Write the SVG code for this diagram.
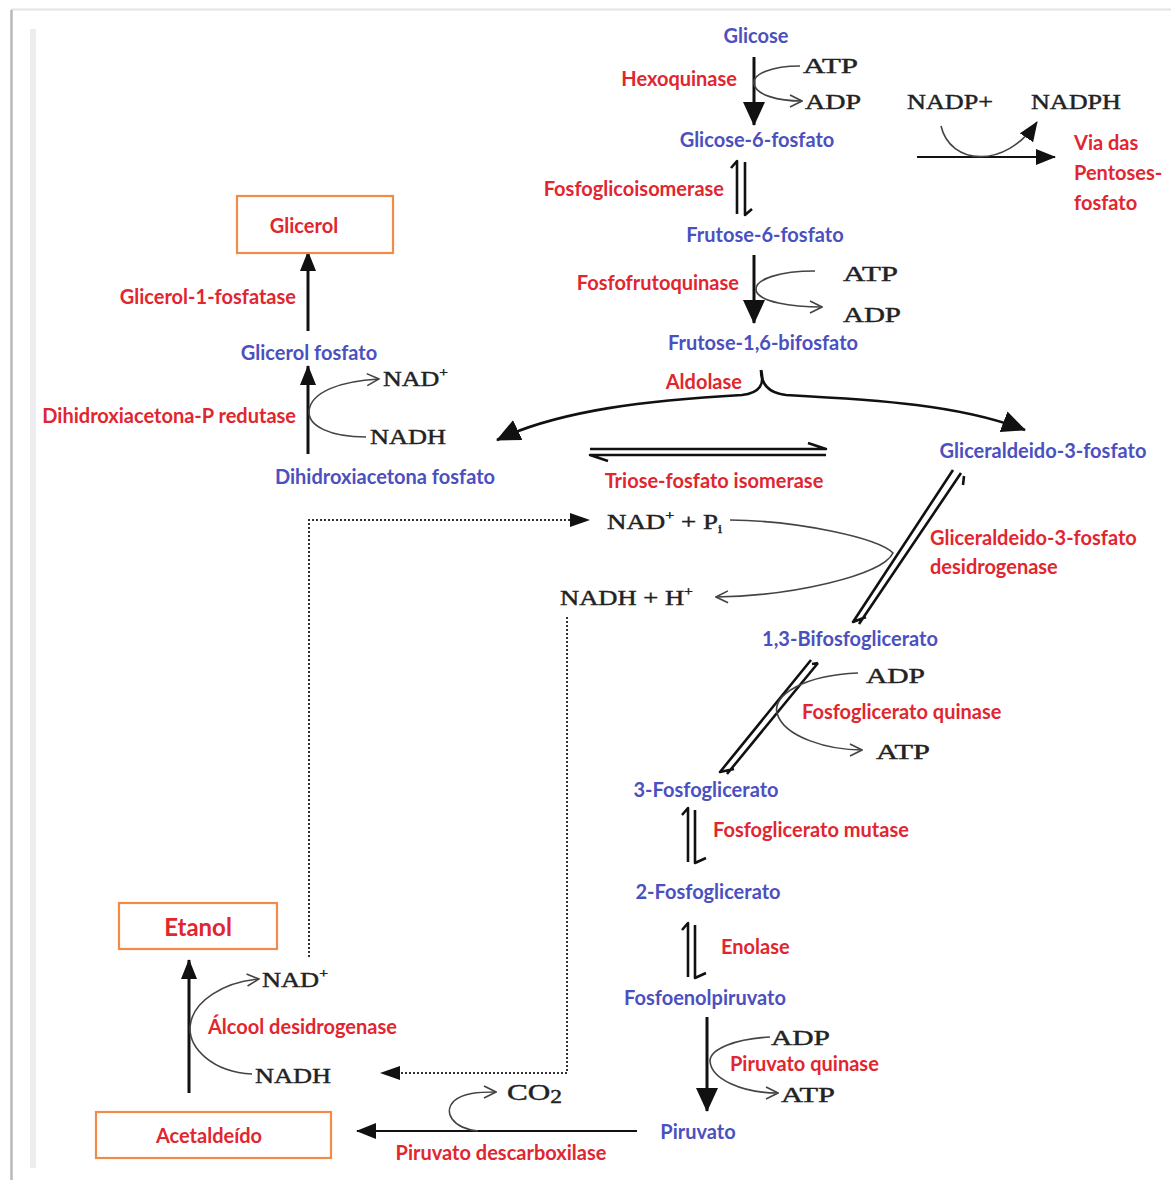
<svg xmlns="http://www.w3.org/2000/svg" width="1171" height="1180" viewBox="0 0 1171 1180">
<defs>
<style>
.m{font-family:Lato,"Open Sans","Liberation Sans",sans-serif;font-weight:bold;font-size:20px;fill:#4b50c0}
.e{font-family:Lato,"Open Sans","Liberation Sans",sans-serif;font-weight:bold;font-size:20px;fill:#e1262f}
.c{font-family:"Liberation Serif","Times New Roman",serif;font-size:22px;fill:#222;stroke:#222;stroke-width:0.45}
.ln{fill:none;stroke:#111;stroke-width:3}
.thin{fill:none;stroke:#444;stroke-width:1.6}
.eq{fill:none;stroke:#111;stroke-width:2.6;stroke-linejoin:round}
.dot{fill:none;stroke:#333;stroke-width:2;stroke-dasharray:2 2}
.box{fill:#fff;stroke:#f08c48;stroke-width:2.2}
</style>
<marker id="big" markerUnits="userSpaceOnUse" viewBox="0 0 24 22" refX="23" refY="11" markerWidth="24" markerHeight="22" orient="auto"><path d="M0,0 L24,11 L0,22 z" fill="#111"/></marker>
<marker id="med" markerUnits="userSpaceOnUse" viewBox="0 0 20 16" refX="19" refY="8" markerWidth="20" markerHeight="16" orient="auto"><path d="M0,0 L20,8 L0,16 z" fill="#111"/></marker>
<marker id="open" markerUnits="userSpaceOnUse" viewBox="0 0 14 14" refX="13" refY="7" markerWidth="14" markerHeight="14" orient="auto"><path d="M1,1 L13,7 L1,13" fill="none" stroke="#444" stroke-width="1.6"/></marker>
</defs>
<rect width="1171" height="1180" fill="#fff"/>
<g id="frame">
<line x1="11" y1="9.5" x2="1171" y2="9.5" stroke="#e4e4e4" stroke-width="2"/>
<line x1="11.5" y1="10" x2="11.5" y2="1180" stroke="#b8b8b8" stroke-width="2.5"/>
<rect x="30" y="29" width="6" height="1139" fill="#ededed"/>
</g>
<g id="connectors">
<line class="ln" x1="754" y1="57" x2="754" y2="125" marker-end="url(#big)"/>
<path class="thin" d="M800,66 C772,66 752,74 754,84 C756,95 778,101 802,101" marker-end="url(#open)"/>
<path class="eq" d="M737,214 L737,161 L731,168 M745,162 L745,215 L752,209"/>
<line x1="917" y1="157" x2="1055" y2="157" stroke="#111" stroke-width="2" marker-end="url(#med)"/>
<path d="M941,126 C950,165 1005,170 1037,122" fill="none" stroke="#444" stroke-width="1.6" marker-end="url(#med)"/>
<line class="ln" x1="754" y1="255" x2="754" y2="323" marker-end="url(#big)"/>
<path class="thin" d="M815,271 C780,271 755,279 756,290 C758,302 792,307 822,307" marker-end="url(#open)"/>
<path d="M761,370 C765,384 760,393 742,395 C650,400 560,410 497,440" fill="none" stroke="#111" stroke-width="2.6" marker-end="url(#big)"/>
<path d="M761,370 C761,384 768,393 786,395 C880,400 960,405 1025,430" fill="none" stroke="#111" stroke-width="2.6" marker-end="url(#big)"/>
<path class="eq" d="M590,449 L826,449 L808,443 M826,455 L590,455 L608,461"/>
<line class="ln" x1="308" y1="331" x2="308" y2="252" marker-end="url(#med)"/>
<line class="ln" x1="308" y1="454" x2="308" y2="366" marker-end="url(#med)"/>
<path class="thin" d="M366,437 C330,437 308,426 309,411 C311,392 340,381 379,379" marker-end="url(#open)"/>
<path class="eq" d="M961,473 L859,624 M964,476 L963,485 M953,470 L853,622 L866,617"/>
<path class="thin" d="M730,520 C800,521 878,538 893,553 C882,576 790,596 716,597" marker-end="url(#open)"/>
<path class="eq" d="M818,663 L727,774 M818,663 L812,664 M811,660 L720,772 L734,769"/>
<path class="thin" d="M858,673 C805,675 772,695 777,713 C784,738 830,750 862,750" marker-end="url(#open)"/>
<path class="eq" d="M688,862 L688,808 L682,815 M695,810 L695,863 L706,858"/>
<path class="eq" d="M688,977 L688,923 L682,930 M695,925 L695,978 L706,973"/>
<line class="ln" x1="707" y1="1017" x2="707" y2="1111" marker-end="url(#big)"/>
<path class="thin" d="M770,1037 C735,1039 710,1049 710,1061 C711,1079 742,1093 778,1093" marker-end="url(#open)"/>
<line x1="637" y1="1131" x2="357" y2="1131" stroke="#111" stroke-width="2.2" marker-end="url(#med)"/>
<path class="thin" d="M478,1131 C452,1128 443,1112 454,1101 C463,1093 478,1092 496,1092" marker-end="url(#open)"/>
<line class="ln" x1="189" y1="1093" x2="189" y2="960" marker-end="url(#med)"/>
<path class="thin" d="M252,1074 C212,1072 189,1048 190,1027 C192,1001 224,982 259,979" marker-end="url(#open)"/>
<path class="dot" d="M309,957 L309,520 L572,520"/>
<path d="M570,513 L590,520 L570,527 z" fill="#111"/>
<path class="dot" d="M567,617 L567,1073 L398,1073"/>
<path d="M400,1066 L380,1073 L400,1080 z" fill="#111"/>
</g>
<g id="n-glicose"><text class="m" x="756" y="43" text-anchor="middle">Glicose</text></g>
<g id="e-hexoquinase"><text class="e" x="737" y="86" text-anchor="end">Hexoquinase</text></g>
<g id="c-atp1"><text class="c" x="803" y="73" textLength="55" lengthAdjust="spacingAndGlyphs">ATP</text></g>
<g id="c-adp1"><text class="c" x="805" y="109" textLength="56" lengthAdjust="spacingAndGlyphs">ADP</text></g>
<g id="n-g6p"><text class="m" x="757" y="147" text-anchor="middle">Glicose-6-fosfato</text></g>
<g id="c-nadp"><text class="c" x="907" y="109" textLength="86" lengthAdjust="spacingAndGlyphs">NADP+</text></g>
<g id="c-nadph"><text class="c" x="1031" y="109" textLength="90" lengthAdjust="spacingAndGlyphs">NADPH</text></g>
<g id="n-pentoses"><text class="e" x="1074" y="150">Via das</text><text class="e" x="1074" y="180">Pentoses-</text><text class="e" x="1074" y="210">fosfato</text></g>
<g id="e-fgi"><text class="e" x="724" y="196" text-anchor="end">Fosfoglicoisomerase</text></g>
<g id="n-f6p"><text class="m" x="765" y="242" text-anchor="middle">Frutose-6-fosfato</text></g>
<g id="e-pfk"><text class="e" x="739" y="290" text-anchor="end">Fosfofrutoquinase</text></g>
<g id="c-atp2"><text class="c" x="843" y="281" textLength="55" lengthAdjust="spacingAndGlyphs">ATP</text></g>
<g id="c-adp2"><text class="c" x="843" y="322" textLength="58" lengthAdjust="spacingAndGlyphs">ADP</text></g>
<g id="n-f16bp"><text class="m" x="763" y="350" text-anchor="middle">Frutose-1,6-bifosfato</text></g>
<g id="e-aldolase"><text class="e" x="742" y="389" text-anchor="end">Aldolase</text></g>
<g id="n-glicerol"><rect class="box" x="237" y="196" width="156" height="57"/><text class="e" x="304" y="233" text-anchor="middle">Glicerol</text></g>
<g id="e-g1f"><text class="e" x="296" y="304" text-anchor="end">Glicerol-1-fosfatase</text></g>
<g id="n-glicerolp"><text class="m" x="309" y="360" text-anchor="middle">Glicerol fosfato</text></g>
<g id="c-nad1"><text class="c" x="383" y="386" textLength="65" lengthAdjust="spacingAndGlyphs">NAD<tspan font-size="13" dy="-9">+</tspan></text></g>
<g id="c-nadh1"><text class="c" x="370" y="444" textLength="76" lengthAdjust="spacingAndGlyphs">NADH</text></g>
<g id="e-dhapr"><text class="e" x="296" y="423" text-anchor="end">Dihidroxiacetona-P redutase</text></g>
<g id="n-dhap"><text class="m" x="385" y="484" text-anchor="middle">Dihidroxiacetona fosfato</text></g>
<g id="e-tpi"><text class="e" x="714" y="488" text-anchor="middle">Triose-fosfato isomerase</text></g>
<g id="n-g3p"><text class="m" x="1043" y="458" text-anchor="middle">Gliceraldeido-3-fosfato</text></g>
<g id="c-nadpi"><text class="c" x="607" y="529" textLength="115" lengthAdjust="spacingAndGlyphs">NAD<tspan font-size="13" dy="-9">+</tspan><tspan dy="9"> + P</tspan><tspan font-size="12" dy="4">i</tspan></text></g>
<g id="c-nadhh"><text class="c" x="560" y="605" textLength="133" lengthAdjust="spacingAndGlyphs">NADH + H<tspan font-size="13" dy="-9">+</tspan></text></g>
<g id="e-gapdh"><text class="e" x="930" y="545">Gliceraldeido-3-fosfato</text><text class="e" x="930" y="574">desidrogenase</text></g>
<g id="n-13bpg"><text class="m" x="850" y="646" text-anchor="middle">1,3-Bifosfoglicerato</text></g>
<g id="c-adp3"><text class="c" x="866" y="683" textLength="59" lengthAdjust="spacingAndGlyphs">ADP</text></g>
<g id="e-pgk"><text class="e" x="802" y="719">Fosfoglicerato quinase</text></g>
<g id="c-atp3"><text class="c" x="876" y="759" textLength="54" lengthAdjust="spacingAndGlyphs">ATP</text></g>
<g id="n-3pg"><text class="m" x="706" y="797" text-anchor="middle">3-Fosfoglicerato</text></g>
<g id="e-pgm"><text class="e" x="713" y="837">Fosfoglicerato mutase</text></g>
<g id="n-2pg"><text class="m" x="708" y="899" text-anchor="middle">2-Fosfoglicerato</text></g>
<g id="e-enolase"><text class="e" x="721" y="954">Enolase</text></g>
<g id="n-pep"><text class="m" x="705" y="1005" text-anchor="middle">Fosfoenolpiruvato</text></g>
<g id="c-adp4"><text class="c" x="771" y="1045" textLength="59" lengthAdjust="spacingAndGlyphs">ADP</text></g>
<g id="e-pk"><text class="e" x="730" y="1071">Piruvato quinase</text></g>
<g id="c-atp4"><text class="c" x="781" y="1102" textLength="54" lengthAdjust="spacingAndGlyphs">ATP</text></g>
<g id="n-piruvato"><text class="m" x="698" y="1139" text-anchor="middle">Piruvato</text></g>
<g id="c-co2"><text class="c" x="507" y="1100" style="font-size:24px" textLength="55" lengthAdjust="spacingAndGlyphs">CO<tspan font-size="18" dy="3">2</tspan></text></g>
<g id="e-pdc"><text class="e" x="501" y="1160" text-anchor="middle">Piruvato descarboxilase</text></g>
<g id="n-acetaldeido"><rect class="box" x="96" y="1112" width="235" height="46"/><text class="e" x="209" y="1143" text-anchor="middle">Acetaldeído</text></g>
<g id="n-etanol"><rect class="box" x="119" y="903" width="158" height="46"/><text class="e" x="198" y="936" text-anchor="middle" style="font-size:24px">Etanol</text></g>
<g id="c-nad2"><text class="c" x="262" y="987" textLength="66" lengthAdjust="spacingAndGlyphs">NAD<tspan font-size="13" dy="-9">+</tspan></text></g>
<g id="e-adh"><text class="e" x="208" y="1034">Álcool desidrogenase</text></g>
<g id="c-nadh2"><text class="c" x="255" y="1083" textLength="76" lengthAdjust="spacingAndGlyphs">NADH</text></g>
</svg>
